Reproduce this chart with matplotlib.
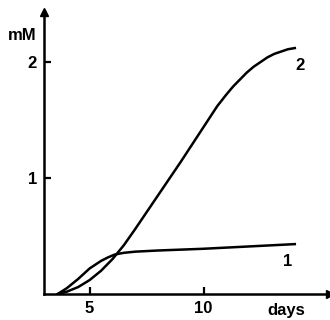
import matplotlib
matplotlib.use("Agg")
import matplotlib.pyplot as plt

plt.rcParams["font.family"] = ["Liberation Sans", "DejaVu Sans"]
plt.rcParams["font.weight"] = "bold"

# curve 1
days1 = [3.6, 4.0, 4.5, 5.0, 5.5, 5.8, 6.1, 6.5, 7.0, 8.0, 10.0, 12.0, 14.0]
mm1 = [0.0, 0.05, 0.13, 0.22, 0.285, 0.315, 0.34, 0.355, 0.365, 0.375, 0.39, 0.41, 0.43]

# curve 2
days2 = [3.6, 4.0, 4.5, 5.0, 5.5, 6.0, 6.5, 7.0, 8.0, 9.0, 10.0, 10.6, 11.0,
         11.3, 11.6, 11.9, 12.2, 12.5, 12.8, 13.1, 13.4, 13.7, 14.0]
mm2 = [0.0, 0.02, 0.06, 0.12, 0.2, 0.3, 0.42, 0.56, 0.85, 1.14, 1.44, 1.62,
       1.72, 1.79, 1.85, 1.91, 1.96, 2.0, 2.04, 2.07, 2.09, 2.11, 2.12]

xticks = [5, 10]
yticks = [1, 2]

fig = plt.figure(figsize=(3.3, 3.2), dpi=100)
ax = fig.add_axes([44 / 330, 26 / 320, 286 / 330, 282 / 320])
ax.set_xlim(3, 3 + 286 / 22.8)
ax.set_ylim(0, 282 / 116)

ax.plot(days1, mm1, color="black", lw=1.8)
ax.plot(days2, mm2, color="black", lw=1.8)

ax.text(14.25, 1.97, "2", fontsize=12, fontweight="bold", ha="center", va="center")
ax.text(13.7, 0.28, "1", fontsize=12, fontweight="bold", ha="center", va="center")

# axes with arrows
for s in ["top", "right"]:
    ax.spines[s].set_visible(False)
ax.spines["left"].set_linewidth(1.8)
ax.spines["bottom"].set_linewidth(1.8)
ax.plot(1, 0, ">k", ms=6, transform=ax.transAxes, clip_on=False)
ax.plot(0, 1, "^k", ms=6, transform=ax.transAxes, clip_on=False)

ax.set_xticks(xticks)
ax.set_yticks(yticks)
ax.set_xticklabels([str(t) for t in xticks], fontsize=12, fontweight="bold")
ax.set_yticklabels([str(t) for t in yticks], fontsize=12, fontweight="bold")
ax.tick_params(direction="in", length=5, width=1.6, pad=5)

fig.text(22 / 330, 1 - 35 / 320, "mM", fontsize=12, fontweight="bold",
         ha="center", va="center")
fig.text(286 / 330, 1 - 311 / 320, "days", fontsize=12, fontweight="bold",
         ha="center", va="center")

fig.savefig("out.png", dpi=100)
